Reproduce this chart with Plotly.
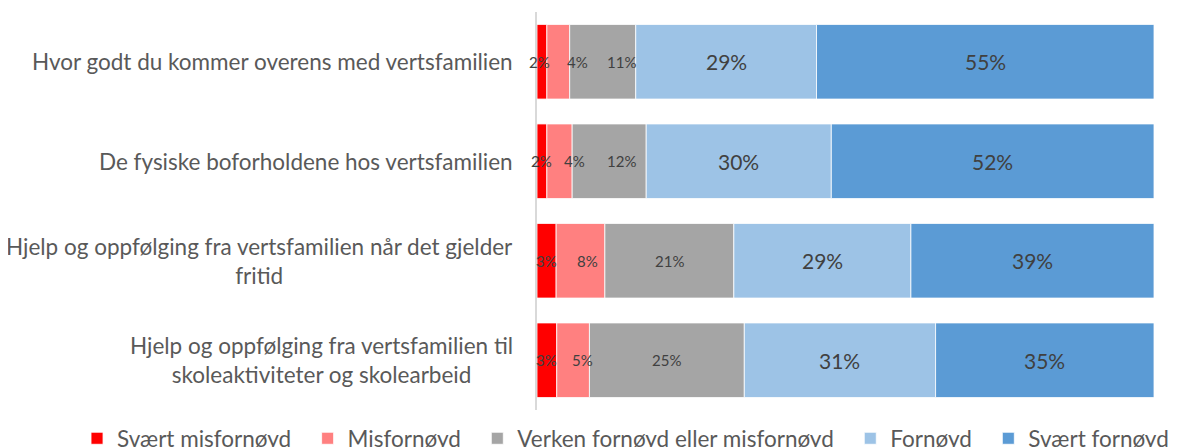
import plotly.graph_objects as go

categories = [
    "Hvor godt du kommer overens med vertsfamilien",
    "De fysiske boforholdene hos vertsfamilien",
    "Hjelp og oppfølging fra vertsfamilien når det gjelder<br>fritid",
    "Hjelp og oppfølging fra vertsfamilien til<br>skoleaktiviteter og skolearbeid",
]
series_names = [
    "Svært misfornøyd",
    "Misfornøyd",
    "Verken fornøyd eller misfornøyd",
    "Fornøyd",
    "Svært fornøyd",
]
svaert_misfornoyd = [0.016, 0.016, 0.031, 0.032]
misfornoyd = [0.037, 0.041, 0.079, 0.053]
verken = [0.107, 0.120, 0.209, 0.251]
fornoyd = [0.293, 0.300, 0.287, 0.310]
svaert_fornoyd = [0.547, 0.523, 0.394, 0.354]

series_values = [svaert_misfornoyd, misfornoyd, verken, fornoyd, svaert_fornoyd]
colors = ["#FF0000", "#FF8080", "#A5A5A5", "#9DC3E6", "#5B9BD5"]
label_sizes = [15, 15, 15, 21, 21]
# manual nudges (px) of the data labels, per series and row, as in the original
label_nudge = [
    [-2, 0, 0, 0],
    [19, 15, 7, 9],
    [19, 12, 0, 0],
    [0, 0, 0, 0],
    [0, 0, 0, 0],
]

FONT = "Lato, 'Open Sans', sans-serif"
TXT = "#404040"
CAT = "#595959"
PAD = "\u00a0" * 2

fig = go.Figure()
bases = [0.0] * len(categories)
for name, vals, col, fs, nudges in zip(series_names, series_values, colors,
                                       label_sizes, label_nudge):
    fig.add_trace(go.Bar(
        y=categories, x=vals, base=list(bases), name=name + PAD, orientation="h",
        marker=dict(color=col, line=dict(color="white", width=0.8)),
        textposition="none", hoverinfo="skip",
    ))
    for cat, b, v, dx in zip(categories, bases, vals, nudges):
        fig.add_annotation(
            x=b + v / 2, y=cat, xref="x", yref="y", text=f"{v:.0%}",
            showarrow=False, xanchor="center", yanchor="middle", xshift=dx,
            font=dict(size=fs, color=TXT, family=FONT),
        )
    bases = [b + v for b, v in zip(bases, vals)]

for cat in categories:
    fig.add_annotation(
        x=0, y=cat, xref="paper", yref="y", xanchor="right", yanchor="middle",
        xshift=-22, text=cat, showarrow=False, align="center",
        font=dict(size=22.5, color=CAT, family=FONT),
    )

fig.update_layout(
    barmode="overlay",
    width=1187, height=447,
    margin=dict(l=529, r=41, t=4, b=45, autoexpand=False),
    plot_bgcolor="white", paper_bgcolor="white",
    bargap=0.25,
    showlegend=True,
    legend=dict(
        orientation="h", xref="paper", x=-0.7455, xanchor="left",
        yref="paper", y=-0.072, yanchor="middle",
        font=dict(size=22.5, color=CAT, family=FONT),
        traceorder="normal", bgcolor="rgba(0,0,0,0)",
    ),
    xaxis=dict(range=[0, 1], showgrid=False, showticklabels=False,
               zeroline=False, showline=False, fixedrange=True),
    yaxis=dict(autorange="reversed", showticklabels=False, showgrid=False,
               showline=True, linecolor="#D9D9D9", linewidth=2, ticks="",
               zeroline=False),
)

fig.write_html("out.html")
